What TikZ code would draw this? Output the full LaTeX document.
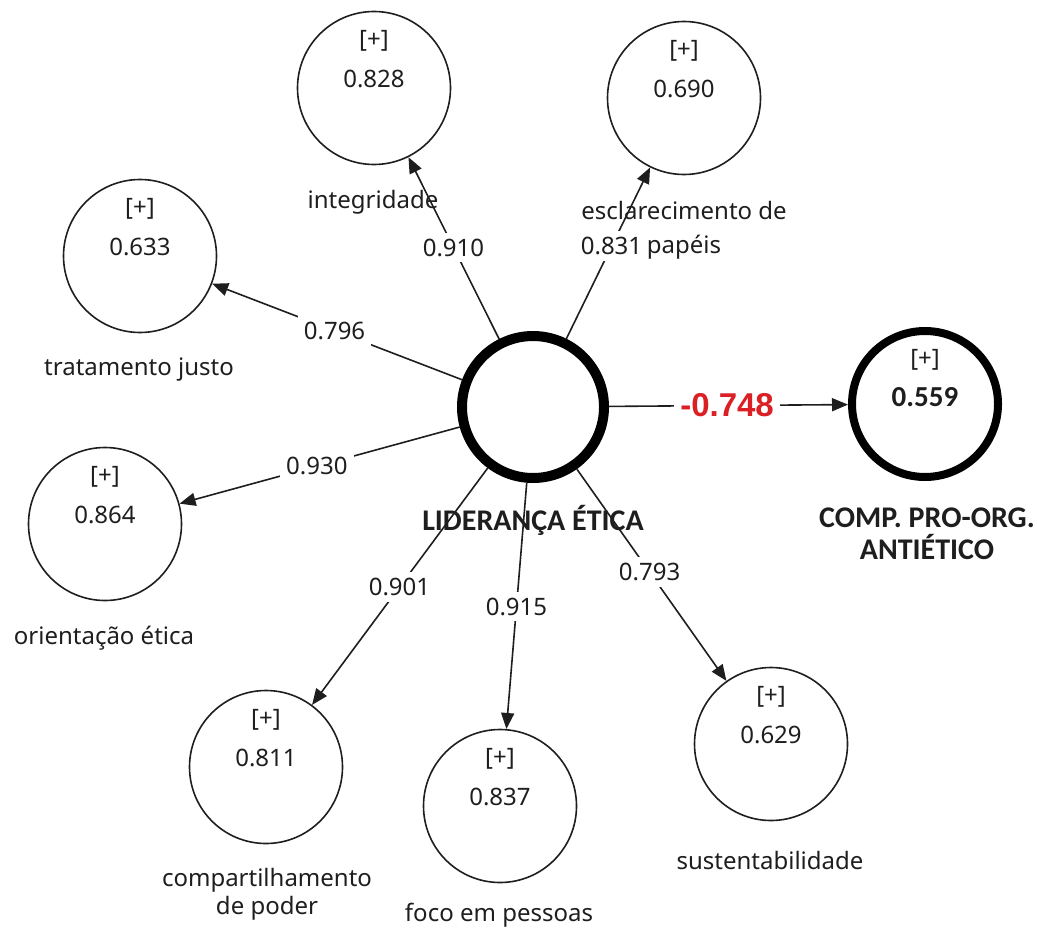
\documentclass[tikz,border=0pt]{standalone}
\usepackage{fontspec}
\setmainfont{Noto Sans}
\newfontfamily\carl{Carlito}
\newfontfamily\libs{Liberation Sans}
\usetikzlibrary{arrows.meta,calc}
\definecolor{pred}{RGB}{218,32,36}
\definecolor{ink}{RGB}{30,30,30}
\begin{document}
\begin{tikzpicture}[x=0.5pt,y=-0.5pt,
  ind/.style={circle,draw=ink,line width=0.8pt,minimum size=76.5pt,inner sep=0pt},
  lvmain/.style={circle,draw=black,line width=5pt,minimum size=71pt,inner sep=0pt},
  lvout/.style={circle,draw=black,line width=4pt,minimum size=73pt,inner sep=0pt},
  txt/.style={text=ink,font=\fontsize{12}{14}\selectfont,inner sep=0pt},
  nm/.style={text=ink,font=\fontsize{12}{14}\selectfont,align=center,inner sep=0pt},
  bnm/.style={text=ink,font=\carl\bfseries\fontsize{15}{16}\selectfont,align=center,inner sep=0pt},
  conn/.style={draw=ink,line width=0.8pt,-{Triangle[length=8pt,width=6.5pt]}},
  lbl/.style={fill=white,text=ink,font=\fontsize{12}{14}\selectfont,inner sep=3pt},
]
\useasboundingbox (0,0) rectangle (1037,931);

% latent variables
\node[lvmain] (lead) at (533,407) {};
\node[lvout] (comp) at (925,404) {};

% indicator circles
\node[ind] (integ) at (374,88) {};
\node[ind] (escl) at (684,98) {};
\node[ind] (trat) at (140,256) {};
\node[ind] (orie) at (105,524) {};
\node[ind] (comps) at (266,767) {};
\node[ind] (foco) at (500,806) {};
\node[ind] (sust) at (771,744) {};

% circle contents
\foreach \n/\v in {integ/0.828, escl/0.690, trat/0.633, orie/0.864, comps/0.811, foco/0.837, sust/0.629}{
  \node[txt] (\n-p) at ($(\n)+(0,-47)$) {[+]};
  \node[txt] (\n-v) at ($(\n)+(0,-9)$) {\v};
}
\node[txt] (comp-p) at ($(comp)+(0,-44)$) {[+]};
\node[txt,font=\carl\bfseries\fontsize{14.5}{16}\selectfont] (comp-v) at ($(comp)+(0,-7)$) {0.559};

% names
\node[nm] (integ-n) at (373,202) {integridade};
\node[nm,font=\fontsize{12}{17}\selectfont] (escl-n) at (684,230) {esclarecimento de\\papéis};
\node[nm] (trat-n) at (139,370) {tratamento justo};
\node[nm] (orie-n) at (104,638) {orientação ética};
\node[nm] (comps-n) at (267,894) {compartilhamento\\de poder};
\node[nm] (foco-n) at (499,915) {foco em pessoas};
\node[nm] (sust-n) at (770,860) {sustentabilidade};
\node[bnm] (lead-n) at (533,520) {LIDERANÇA ÉTICA};
\node[bnm] (comp-n) at (927,534) {COMP. PRO-ORG.\\ANTIÉTICO};

% connectors
\foreach \t in {integ,escl,trat,orie,comps,foco,sust,comp}{
  \draw[conn] (lead) -- (\t);
}

% loadings
\node[lbl] (l-integ) at ($(lead)!0.50!(integ)$) {0.910};
\node[lbl] (l-escl) at ($(lead)!0.52!(escl)$) {0.831};
\node[lbl] (l-trat) at ($(lead)!0.505!(trat)$) {0.796};
\node[lbl] (l-orie) at ($(lead)!0.505!(orie)$) {0.930};
\node[lbl] (l-comps) at ($(lead)!0.50!(comps)$) {0.901};
\node[lbl] (l-foco) at ($(lead)!0.50!(foco)$) {0.915};
\node[lbl] (l-sust) at ($(lead)!0.49!(sust)$) {0.793};
\node[lbl,text=pred,font=\libs\bfseries\fontsize{16.5}{18}\selectfont] (l-comp) at ($(lead)!0.495!(comp)$) {-0.748};
\end{tikzpicture}
\end{document}
